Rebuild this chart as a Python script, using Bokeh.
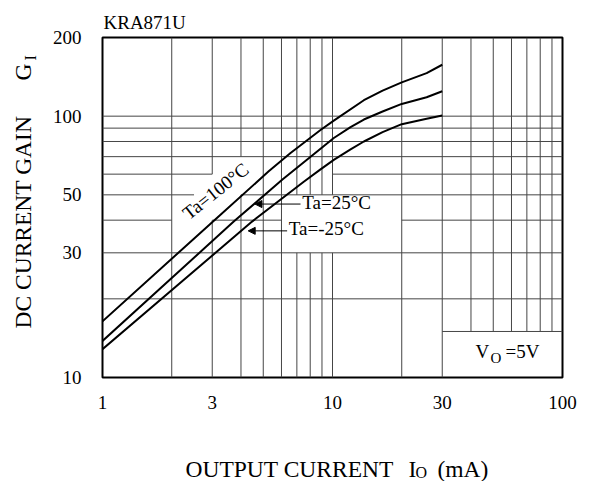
import math
from bokeh.plotting import figure
from bokeh.layouts import column, row
from bokeh.models import (FixedTicker, NumeralTickFormatter, Label, Arrow,
                          NormalHead, Range1d)
from bokeh.embed import file_html
from bokeh.resources import INLINE

# ---- data ----
io_100 = [1, 3.25, 5.28, 6.57, 8.87, 10.13, 13.69, 16.51, 20, 25.66, 30]
gi_100 = [16.4, 41.9, 61.5, 72.3, 88.5, 96.1, 115.1, 125.3, 134.7, 146.2, 157.3]

io_25 = [1, 3.72, 6.04, 8.87, 10.13, 11.98, 13.69, 16.51, 20, 25.66, 30]
gi_25 = [13.8, 39.5, 57.1, 75.1, 82.5, 90.8, 97.1, 104.2, 111.4, 118.1, 124.5]

io_m25 = [1, 4.47, 7.5, 8.87, 10.13, 11.98, 13.69, 16.51, 20, 25.66, 30]
gi_m25 = [12.83, 39.5, 56.1, 62.6, 68.0, 74.6, 80.0, 86.9, 93.2, 97.8, 100.6]

x_ticks = [1, 3, 10, 30, 100]
y_ticks = [10, 30, 50, 100, 200]

# grid lines of the datasheet, with the spans where they are drawn
v_grid = [2, 3, 4, 5, 6, 7, 8, 9, 10, 20, 30, 40, 50, 60, 70, 80, 90]
v_spans = [[(10, 200)], [(10, 40), (60, 200)], [(10, 50), (70, 200)],
           [(10, 200)], [(10, 200)],
           [(10, 30), (50, 200)], [(10, 30), (50, 200)],
           [(10, 30), (50, 200)], [(10, 30), (50, 200)],
           [(10, 200)], [(10, 200)],
           [(15, 200)], [(15, 200)], [(15, 200)], [(15, 200)], [(15, 200)], [(15, 200)]]
h_grid = [15, 20, 30, 40, 50, 60, 70, 80, 90, 100]
h_spans = [[(30, 100)], [(1, 100)], [(1, 100)],
           [(1, 2), (3, 6), (20, 100)], [(1, 2.5), (4, 100)], [(1, 3), (10, 100)],
           [(1, 100)], [(1, 100)], [(1, 100)], [(1, 100)]]

arrow25_x = (7.26, 4.6)
arrow25_y = 46.1
arrowm25_x = (6.35, 4.3)
arrowm25_y = 36.4

FONT = "Liberation Serif"
LEFT_W = 45
MAIN_H = 440
TOTAL_W, TOTAL_H = 593, 481

p = figure(width=TOTAL_W - LEFT_W, height=MAIN_H, x_axis_type="log", y_axis_type="log",
           x_range=Range1d(1, 100), y_range=Range1d(10, 200),
           output_backend="svg", toolbar_location=None,
           min_border_left=102 - LEFT_W, min_border_right=31,
           min_border_top=37, min_border_bottom=MAIN_H - 377)
p.background_fill_color = "white"
p.border_fill_color = "white"
p.xgrid.grid_line_color = None
p.ygrid.grid_line_color = None
p.outline_line_color = "black"
p.outline_line_width = 2

p.title.text = "KRA871U"
p.title.align = "left"
p.title.offset = 1
p.title.text_font = FONT
p.title.text_font_size = "19px"
p.title.text_font_style = "normal"
p.title.text_color = "black"

p.xaxis.ticker = FixedTicker(ticks=x_ticks)
p.yaxis.ticker = FixedTicker(ticks=y_ticks)
for ax in (p.xaxis[0], p.yaxis[0]):
    ax.formatter = NumeralTickFormatter(format="0")
    ax.axis_line_color = None
    ax.major_tick_line_color = None
    ax.minor_tick_line_color = None
    ax.major_label_text_font = FONT
    ax.major_label_text_font_size = "19px"
    ax.major_label_text_color = "black"
p.xaxis[0].major_label_standoff = 12
p.yaxis[0].major_label_standoff = 15

# grid segments
x0, y0, x1, y1 = [], [], [], []
for xv, spans in zip(v_grid, v_spans):
    for a, b in spans:
        x0.append(xv); x1.append(xv); y0.append(a); y1.append(b)
for yv, spans in zip(h_grid, h_spans):
    for a, b in spans:
        x0.append(a); x1.append(b); y0.append(yv); y1.append(yv)
p.segment(x0, y0, x1, y1, line_color="#454545", line_width=1)

# curves
for xs, ys in ((io_100, gi_100), (io_25, gi_25), (io_m25, gi_m25)):
    p.line(xs, ys, line_color="black", line_width=2)

# arrows
for xs, yv in ((arrow25_x, arrow25_y), (arrowm25_x, arrowm25_y)):
    p.add_layout(Arrow(end=NormalHead(size=7, fill_color="black",
                                      line_color="black", line_width=1),
                       x_start=xs[0], y_start=yv, x_end=xs[1], y_end=yv,
                       line_color="black", line_width=1))


def lab(fig, x, y, text, size="19px", angle=0.0, align="left", baseline="alphabetic"):
    fig.add_layout(Label(x=x, y=y, x_units="screen", y_units="screen", text=text,
                         text_font=FONT, text_font_size=size, text_color="black",
                         angle=angle, text_align=align, text_baseline=baseline))


def text_panel(w, h):
    f = figure(width=w, height=h, x_range=Range1d(0, 1), y_range=Range1d(0, 1),
               x_axis_location=None, y_axis_location=None, title=None,
               output_backend="svg", toolbar_location=None,
               min_border_left=0, min_border_right=0,
               min_border_top=0, min_border_bottom=0)
    f.min_border = 0
    f.grid.visible = False
    f.outline_line_color = None
    f.background_fill_color = "white"
    f.border_fill_color = "white"
    try:
        f.frame_align = False
    except Exception:
        pass
    return f


# curve labels (main frame, screen units from frame bottom-left)
lab(p, 113, 186.5, "Ta=100°C", angle=math.radians(38.5), align="center", baseline="middle")
lab(p, 199.7, 175, "Ta=25°C")
lab(p, 186.3, 149, "Ta=-25°C")
# condition
lab(p, 373, 26, "V")
lab(p, 388, 19.5, "O", size="15px")
lab(p, 403, 26, "=5V")

# y axis title panel
left = text_panel(LEFT_W, MAIN_H)
lab(left, 22.5, MAIN_H - 328, "DC CURRENT GAIN", size="23.5px", angle=math.pi / 2)
lab(left, 22.5, MAIN_H - 80, "G", size="23.5px", angle=math.pi / 2)
lab(left, 30, MAIN_H - 60, "I", size="16px", angle=math.pi / 2)

# x axis title panel
bottom = text_panel(TOTAL_W, TOTAL_H - MAIN_H)
lab(bottom, 185, 12.7, "OUTPUT CURRENT", size="23.5px")
lab(bottom, 408, 12.7, "I", size="23.5px")
lab(bottom, 415, 9, "O", size="16px")
lab(bottom, 437, 12.7, "(mA)", size="23.5px")

layout = column(row(left, p, spacing=0), bottom, spacing=0)
open("out.html", "w").write(file_html(layout, INLINE))
